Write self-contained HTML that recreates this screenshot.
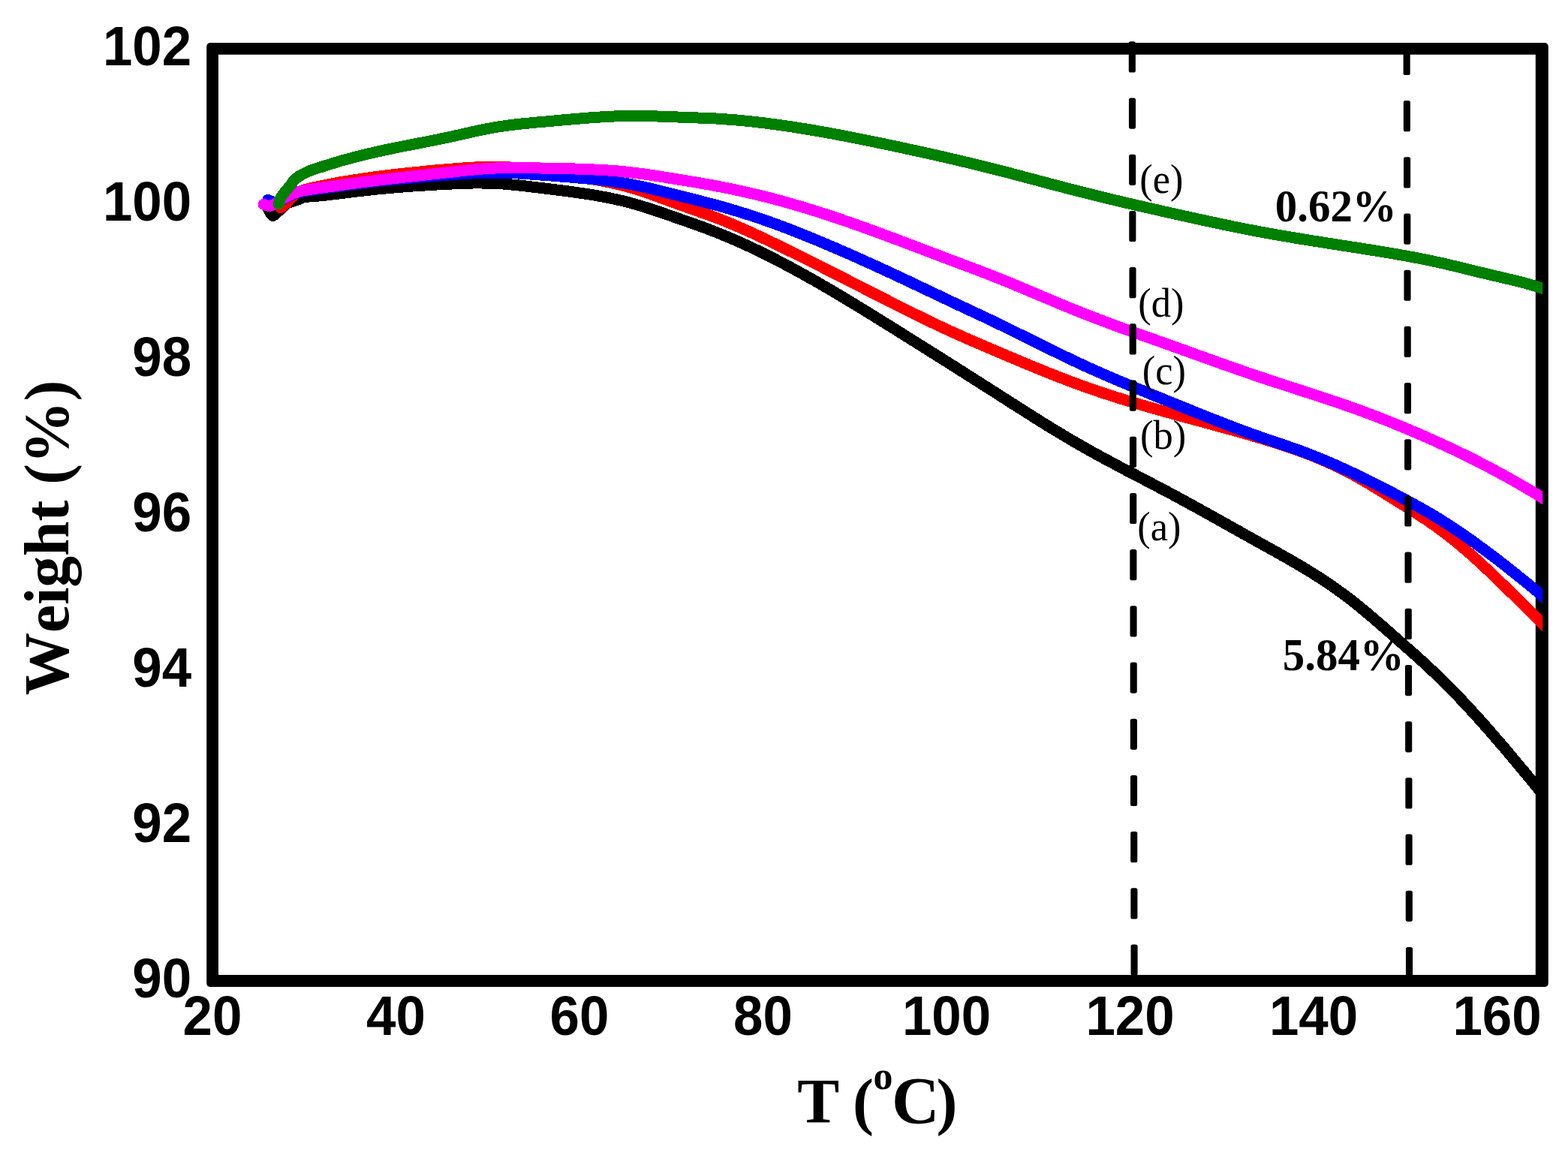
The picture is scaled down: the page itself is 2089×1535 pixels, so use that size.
<!DOCTYPE html>
<html lang="en">
<head>
<meta charset="utf-8">
<title>TGA weight loss curves</title>
<style>
html,body{margin:0;padding:0;background:#fff;}
body{width:2089px;height:1535px;overflow:hidden;}
svg{display:block;}
text{font-kerning:none;font-variant-ligatures:none;}
.tick{font-family:"Liberation Sans",sans-serif;font-weight:bold;fill:#000;}
.axl{font-family:"Liberation Serif",serif;font-weight:bold;fill:#000;}
.lab{font-family:"Liberation Serif",serif;fill:#000;}
.pct{font-family:"Liberation Serif",serif;font-weight:bold;fill:#000;}
.crv{shape-rendering:crispEdges;fill:none;stroke-width:15.0;stroke-linecap:round;stroke-linejoin:round;}
</style>
</head>
<body>
<svg role="img" aria-label="Thermogravimetric weight loss curves (a) to (e), weight percent versus temperature" width="2089" height="1535" viewBox="0 0 2089 1535">
<rect x="0" y="0" width="2089" height="1535" fill="#ffffff"/>
<defs><clipPath id="plot"><rect x="283.1" y="64.8" width="1772.2" height="1242.2"/></clipPath></defs>
<path fill="#000" fill-rule="evenodd" d="M280.7 56.9H2057.3Q2062.8 56.9 2062.8 62.4V1309.4Q2062.8 1314.9 2057.3 1314.9H280.7Q275.2 1314.9 275.2 1309.4V62.4Q275.2 56.9 280.7 56.9Z M291.0 72.7V1299.1H2045.8V72.7Z"/>
<g clip-path="url(#plot)">
<path class="crv" stroke="#000000" d="M354.8 273.0C356.1 275.3 360.2 284.8 362.3 286.7C364.4 288.6 365.5 286.1 367.5 284.6C369.5 283.2 372.1 280.3 374.5 278.0C376.9 275.7 379.6 272.6 382.2 271.0C384.8 269.4 387.6 269.1 390.0 268.3C392.4 267.5 393.9 266.9 396.6 266.0C399.3 265.1 401.5 263.4 406.2 262.6C410.9 261.8 417.7 261.7 425.0 261.0C432.3 260.3 443.8 258.9 450.0 258.2C456.2 257.5 458.0 257.2 462.0 256.7C466.0 256.2 470.0 255.7 474.0 255.2C478.0 254.7 482.0 254.3 486.0 253.8C490.0 253.4 494.0 252.9 498.0 252.5C502.0 252.1 506.0 251.7 510.0 251.3C514.0 251.0 518.0 250.6 522.0 250.2C526.0 249.9 530.0 249.6 534.0 249.2C538.0 248.9 542.0 248.6 546.0 248.3C550.0 248.0 554.0 247.7 558.0 247.5C562.0 247.2 566.0 247.0 570.0 246.7C574.0 246.5 578.0 246.2 582.0 246.0C586.0 245.8 590.0 245.6 594.0 245.4C598.0 245.2 602.0 245.0 606.0 244.8C610.0 244.7 614.0 244.5 618.0 244.4C622.0 244.2 626.0 244.1 630.0 244.0C634.0 244.0 638.0 243.9 642.0 244.0C646.0 244.0 650.0 244.0 654.0 244.2C658.0 244.3 662.0 244.5 666.0 244.7C670.0 245.0 674.0 245.3 678.0 245.7C682.0 246.0 686.0 246.4 690.0 246.8C694.0 247.3 698.0 247.7 702.0 248.2C706.0 248.7 710.0 249.2 714.0 249.7C718.0 250.1 722.0 250.6 726.0 251.1C730.0 251.6 734.0 252.1 738.0 252.6C742.0 253.1 746.0 253.6 750.0 254.1C754.0 254.6 758.0 255.1 762.0 255.6C766.0 256.2 770.0 256.7 774.0 257.3C778.0 257.9 782.0 258.5 786.0 259.1C790.0 259.8 794.0 260.4 798.0 261.2C802.0 261.9 806.0 262.6 810.0 263.4C814.0 264.2 818.0 265.1 822.0 266.0C826.0 266.9 830.0 267.8 834.0 268.8C838.0 269.8 842.0 270.9 846.0 272.1C850.0 273.2 854.0 274.4 858.0 275.6C862.0 276.9 866.0 278.2 870.0 279.5C874.0 280.8 878.0 282.2 882.0 283.5C886.0 284.9 890.0 286.3 894.0 287.7C898.0 289.1 902.0 290.5 906.0 291.9C910.0 293.3 914.0 294.7 918.0 296.1C922.0 297.5 926.0 298.9 930.0 300.4C934.0 301.8 938.0 303.3 942.0 304.8C946.0 306.3 950.0 307.8 954.0 309.4C958.0 311.0 962.0 312.6 966.0 314.3C970.0 315.9 974.0 317.6 978.0 319.3C982.0 321.1 986.0 322.9 990.0 324.7C994.0 326.5 998.0 328.3 1002.0 330.2C1006.0 332.1 1010.0 334.1 1014.0 336.0C1018.0 338.0 1022.0 340.0 1026.0 342.0C1030.0 344.0 1034.0 346.1 1038.0 348.2C1042.0 350.2 1046.0 352.4 1050.0 354.5C1054.0 356.6 1058.0 358.8 1062.0 361.0C1066.0 363.2 1070.0 365.4 1074.0 367.6C1078.0 369.9 1082.0 372.1 1086.0 374.4C1090.0 376.7 1094.0 379.0 1098.0 381.3C1102.0 383.6 1106.0 386.0 1110.0 388.3C1114.0 390.7 1118.0 393.1 1122.0 395.5C1126.0 397.9 1130.0 400.3 1134.0 402.7C1138.0 405.1 1142.0 407.6 1146.0 410.0C1150.0 412.4 1154.0 414.9 1158.0 417.4C1162.0 419.8 1166.0 422.3 1170.0 424.8C1174.0 427.3 1178.0 429.8 1182.0 432.3C1186.0 434.7 1190.0 437.2 1194.0 439.7C1198.0 442.2 1202.0 444.8 1206.0 447.3C1210.0 449.8 1214.0 452.3 1218.0 454.8C1222.0 457.3 1226.0 459.8 1230.0 462.3C1234.0 464.8 1238.0 467.3 1242.0 469.9C1246.0 472.4 1250.0 474.9 1254.0 477.4C1258.0 479.9 1262.0 482.5 1266.0 485.0C1270.0 487.5 1274.0 490.0 1278.0 492.6C1282.0 495.1 1286.0 497.6 1290.0 500.2C1294.0 502.7 1298.0 505.3 1302.0 507.8C1306.0 510.4 1310.0 512.9 1314.0 515.5C1318.0 518.0 1322.0 520.6 1326.0 523.1C1330.0 525.7 1334.0 528.3 1338.0 530.8C1342.0 533.4 1346.0 535.9 1350.0 538.5C1354.0 541.0 1358.0 543.6 1362.0 546.1C1366.0 548.7 1370.0 551.2 1374.0 553.7C1378.0 556.3 1382.0 558.8 1386.0 561.3C1390.0 563.8 1394.0 566.2 1398.0 568.7C1402.0 571.2 1406.0 573.6 1410.0 576.0C1414.0 578.4 1418.0 580.8 1422.0 583.2C1426.0 585.6 1430.0 587.9 1434.0 590.2C1438.0 592.6 1442.0 594.9 1446.0 597.1C1450.0 599.4 1454.0 601.6 1458.0 603.8C1462.0 606.0 1466.0 608.2 1470.0 610.4C1474.0 612.5 1478.0 614.7 1482.0 616.8C1486.0 618.9 1490.0 621.1 1494.0 623.2C1498.0 625.3 1502.0 627.4 1506.0 629.5C1510.0 631.6 1514.0 633.6 1518.0 635.7C1522.0 637.8 1526.0 639.9 1530.0 642.0C1534.0 644.1 1538.0 646.2 1542.0 648.3C1546.0 650.4 1550.0 652.5 1554.0 654.6C1558.0 656.7 1562.0 658.9 1566.0 661.0C1570.0 663.2 1574.0 665.3 1578.0 667.5C1582.0 669.7 1586.0 671.9 1590.0 674.1C1594.0 676.3 1598.0 678.5 1602.0 680.7C1606.0 682.9 1610.0 685.2 1614.0 687.4C1618.0 689.6 1622.0 691.8 1626.0 694.1C1630.0 696.3 1634.0 698.6 1638.0 700.8C1642.0 703.1 1646.0 705.3 1650.0 707.5C1654.0 709.8 1658.0 712.0 1662.0 714.3C1666.0 716.5 1670.0 718.7 1674.0 721.0C1678.0 723.2 1682.0 725.4 1686.0 727.6C1690.0 729.9 1694.0 732.1 1698.0 734.3C1702.0 736.5 1706.0 738.8 1710.0 741.0C1714.0 743.3 1718.0 745.5 1722.0 747.9C1726.0 750.2 1730.0 752.5 1734.0 754.9C1738.0 757.3 1742.0 759.7 1746.0 762.2C1750.0 764.7 1754.0 767.2 1758.0 769.8C1762.0 772.4 1766.0 775.0 1770.0 777.7C1774.0 780.5 1778.0 783.2 1782.0 786.1C1786.0 789.0 1790.0 791.9 1794.0 794.9C1798.0 797.9 1802.0 801.0 1806.0 804.2C1810.0 807.4 1814.0 810.7 1818.0 814.0C1822.0 817.3 1826.0 820.7 1830.0 824.1C1834.0 827.5 1838.0 831.0 1842.0 834.5C1846.0 838.0 1850.0 841.5 1854.0 845.0C1858.0 848.5 1862.0 852.1 1866.0 855.6C1870.0 859.1 1874.0 862.6 1878.0 866.2C1882.0 869.7 1886.0 873.3 1890.0 876.9C1894.0 880.5 1898.0 884.2 1902.0 887.9C1906.0 891.6 1910.0 895.4 1914.0 899.2C1918.0 903.0 1922.0 906.9 1926.0 910.9C1930.0 914.9 1934.0 919.0 1938.0 923.1C1942.0 927.2 1946.0 931.4 1950.0 935.7C1954.0 939.9 1958.0 944.3 1962.0 948.6C1966.0 953.0 1970.0 957.5 1974.0 961.9C1978.0 966.4 1982.0 971.0 1986.0 975.5C1990.0 980.1 1994.0 984.7 1998.0 989.4C2002.0 994.0 2006.0 998.7 2010.0 1003.5C2014.0 1008.2 2018.0 1013.0 2022.0 1017.8C2026.0 1022.6 2030.0 1027.4 2034.0 1032.2C2038.0 1037.1 2042.0 1042.0 2046.0 1046.9C2050.0 1051.8 2055.0 1057.9 2058.0 1061.6C2061.0 1065.3 2063.0 1067.8 2064.0 1069.0"/>
<path class="crv" stroke="#ff0000" d="M373.5 277.0C374.8 276.1 378.6 273.7 381.0 271.5C383.4 269.3 385.4 266.5 388.0 264.0C390.6 261.5 392.9 258.6 396.6 256.5C400.3 254.4 401.5 253.7 410.4 251.5C419.3 249.3 441.4 245.1 450.0 243.4C458.6 241.7 458.0 242.1 462.0 241.4C466.0 240.8 470.0 240.1 474.0 239.5C478.0 238.9 482.0 238.3 486.0 237.7C490.0 237.1 494.0 236.6 498.0 236.0C502.0 235.5 506.0 234.9 510.0 234.4C514.0 233.9 518.0 233.4 522.0 233.0C526.0 232.5 530.0 232.0 534.0 231.6C538.0 231.1 542.0 230.7 546.0 230.3C550.0 229.9 554.0 229.5 558.0 229.1C562.0 228.7 566.0 228.3 570.0 227.9C574.0 227.6 578.0 227.2 582.0 226.8C586.0 226.5 590.0 226.1 594.0 225.8C598.0 225.5 602.0 225.1 606.0 224.8C610.0 224.5 614.0 224.2 618.0 223.9C622.0 223.6 626.0 223.3 630.0 223.1C634.0 222.9 638.0 222.7 642.0 222.6C646.0 222.4 650.0 222.3 654.0 222.3C658.0 222.3 662.0 222.3 666.0 222.4C670.0 222.5 674.0 222.7 678.0 222.9C682.0 223.1 686.0 223.4 690.0 223.7C694.0 224.0 698.0 224.4 702.0 224.8C706.0 225.2 710.0 225.7 714.0 226.2C718.0 226.7 722.0 227.3 726.0 227.8C730.0 228.4 734.0 229.0 738.0 229.7C742.0 230.3 746.0 231.0 750.0 231.7C754.0 232.3 758.0 233.0 762.0 233.8C766.0 234.5 770.0 235.2 774.0 235.9C778.0 236.6 782.0 237.4 786.0 238.1C790.0 238.8 794.0 239.6 798.0 240.3C802.0 241.1 806.0 241.9 810.0 242.7C814.0 243.5 818.0 244.4 822.0 245.3C826.0 246.3 830.0 247.3 834.0 248.3C838.0 249.4 842.0 250.6 846.0 251.8C850.0 253.0 854.0 254.3 858.0 255.7C862.0 257.0 866.0 258.4 870.0 259.8C874.0 261.3 878.0 262.8 882.0 264.2C886.0 265.7 890.0 267.2 894.0 268.6C898.0 270.1 902.0 271.5 906.0 272.9C910.0 274.4 914.0 275.8 918.0 277.2C922.0 278.6 926.0 280.0 930.0 281.4C934.0 282.8 938.0 284.2 942.0 285.6C946.0 287.1 950.0 288.6 954.0 290.1C958.0 291.6 962.0 293.2 966.0 294.8C970.0 296.4 974.0 298.1 978.0 299.8C982.0 301.5 986.0 303.2 990.0 305.0C994.0 306.7 998.0 308.6 1002.0 310.4C1006.0 312.2 1010.0 314.1 1014.0 316.0C1018.0 317.9 1022.0 319.8 1026.0 321.7C1030.0 323.6 1034.0 325.6 1038.0 327.5C1042.0 329.5 1046.0 331.4 1050.0 333.4C1054.0 335.4 1058.0 337.3 1062.0 339.3C1066.0 341.3 1070.0 343.3 1074.0 345.3C1078.0 347.3 1082.0 349.3 1086.0 351.3C1090.0 353.3 1094.0 355.3 1098.0 357.4C1102.0 359.4 1106.0 361.4 1110.0 363.5C1114.0 365.5 1118.0 367.5 1122.0 369.6C1126.0 371.6 1130.0 373.6 1134.0 375.7C1138.0 377.7 1142.0 379.8 1146.0 381.8C1150.0 383.9 1154.0 385.9 1158.0 387.9C1162.0 390.0 1166.0 392.0 1170.0 394.0C1174.0 396.1 1178.0 398.1 1182.0 400.1C1186.0 402.2 1190.0 404.2 1194.0 406.2C1198.0 408.2 1202.0 410.2 1206.0 412.2C1210.0 414.2 1214.0 416.2 1218.0 418.2C1222.0 420.1 1226.0 422.1 1230.0 424.1C1234.0 426.0 1238.0 427.9 1242.0 429.9C1246.0 431.8 1250.0 433.7 1254.0 435.6C1258.0 437.4 1262.0 439.3 1266.0 441.2C1270.0 443.0 1274.0 444.8 1278.0 446.6C1282.0 448.4 1286.0 450.2 1290.0 451.9C1294.0 453.7 1298.0 455.4 1302.0 457.1C1306.0 458.8 1310.0 460.5 1314.0 462.2C1318.0 464.0 1322.0 465.7 1326.0 467.4C1330.0 469.1 1334.0 470.8 1338.0 472.5C1342.0 474.2 1346.0 475.9 1350.0 477.5C1354.0 479.2 1358.0 480.9 1362.0 482.6C1366.0 484.3 1370.0 485.9 1374.0 487.6C1378.0 489.2 1382.0 490.9 1386.0 492.5C1390.0 494.2 1394.0 495.8 1398.0 497.4C1402.0 499.0 1406.0 500.5 1410.0 502.1C1414.0 503.7 1418.0 505.2 1422.0 506.7C1426.0 508.2 1430.0 509.7 1434.0 511.2C1438.0 512.7 1442.0 514.1 1446.0 515.5C1450.0 517.0 1454.0 518.4 1458.0 519.7C1462.0 521.1 1466.0 522.4 1470.0 523.8C1474.0 525.1 1478.0 526.4 1482.0 527.7C1486.0 529.0 1490.0 530.2 1494.0 531.5C1498.0 532.7 1502.0 533.9 1506.0 535.1C1510.0 536.4 1514.0 537.6 1518.0 538.7C1522.0 539.9 1526.0 541.1 1530.0 542.2C1534.0 543.4 1538.0 544.5 1542.0 545.7C1546.0 546.8 1550.0 547.9 1554.0 549.0C1558.0 550.1 1562.0 551.3 1566.0 552.4C1570.0 553.5 1574.0 554.5 1578.0 555.6C1582.0 556.7 1586.0 557.8 1590.0 558.9C1594.0 560.0 1598.0 561.1 1602.0 562.1C1606.0 563.2 1610.0 564.3 1614.0 565.4C1618.0 566.5 1622.0 567.6 1626.0 568.7C1630.0 569.8 1634.0 570.9 1638.0 572.0C1642.0 573.1 1646.0 574.2 1650.0 575.4C1654.0 576.5 1658.0 577.6 1662.0 578.8C1666.0 580.0 1670.0 581.1 1674.0 582.3C1678.0 583.5 1682.0 584.7 1686.0 585.9C1690.0 587.1 1694.0 588.4 1698.0 589.6C1702.0 590.9 1706.0 592.2 1710.0 593.5C1714.0 594.8 1718.0 596.2 1722.0 597.6C1726.0 599.0 1730.0 600.4 1734.0 601.9C1738.0 603.4 1742.0 604.9 1746.0 606.4C1750.0 608.0 1754.0 609.6 1758.0 611.3C1762.0 613.0 1766.0 614.7 1770.0 616.5C1774.0 618.3 1778.0 620.1 1782.0 622.1C1786.0 624.0 1790.0 626.0 1794.0 628.0C1798.0 630.1 1802.0 632.3 1806.0 634.5C1810.0 636.7 1814.0 639.0 1818.0 641.3C1822.0 643.6 1826.0 646.0 1830.0 648.5C1834.0 650.9 1838.0 653.3 1842.0 655.8C1846.0 658.3 1850.0 660.8 1854.0 663.3C1858.0 665.8 1862.0 668.2 1866.0 670.7C1870.0 673.2 1874.0 675.7 1878.0 678.2C1882.0 680.7 1886.0 683.3 1890.0 685.9C1894.0 688.5 1898.0 691.1 1902.0 693.8C1906.0 696.5 1910.0 699.3 1914.0 702.1C1918.0 705.0 1922.0 708.0 1926.0 711.0C1930.0 714.1 1934.0 717.3 1938.0 720.5C1942.0 723.7 1946.0 727.1 1950.0 730.5C1954.0 733.9 1958.0 737.4 1962.0 741.0C1966.0 744.6 1970.0 748.2 1974.0 751.9C1978.0 755.6 1982.0 759.4 1986.0 763.2C1990.0 767.0 1994.0 770.8 1998.0 774.7C2002.0 778.6 2006.0 782.5 2010.0 786.5C2014.0 790.4 2018.0 794.3 2022.0 798.3C2026.0 802.2 2030.0 806.1 2034.0 810.1C2038.0 814.0 2042.0 817.8 2046.0 821.7C2050.0 825.6 2055.0 830.5 2058.0 833.5C2061.0 836.4 2063.0 838.5 2064.0 839.5"/>
<path class="crv" stroke="#0000ff" d="M356.9 266.2C357.8 266.6 359.8 268.0 362.0 268.5C364.2 269.0 366.8 269.8 370.0 269.0C373.2 268.2 376.6 265.6 381.0 263.5C385.4 261.4 391.7 258.2 396.6 256.6C401.5 255.0 401.5 255.4 410.4 254.0C419.3 252.6 441.4 249.5 450.0 248.3C458.6 247.1 458.0 247.2 462.0 246.7C466.0 246.1 470.0 245.6 474.0 245.1C478.0 244.6 482.0 244.0 486.0 243.6C490.0 243.1 494.0 242.6 498.0 242.1C502.0 241.7 506.0 241.2 510.0 240.8C514.0 240.4 518.0 240.0 522.0 239.6C526.0 239.2 530.0 238.8 534.0 238.4C538.0 238.0 542.0 237.7 546.0 237.3C550.0 236.9 554.0 236.6 558.0 236.2C562.0 235.9 566.0 235.6 570.0 235.2C574.0 234.9 578.0 234.6 582.0 234.3C586.0 234.0 590.0 233.7 594.0 233.4C598.0 233.0 602.0 232.7 606.0 232.5C610.0 232.2 614.0 231.9 618.0 231.6C622.0 231.3 626.0 231.1 630.0 230.9C634.0 230.7 638.0 230.5 642.0 230.3C646.0 230.2 650.0 230.1 654.0 230.0C658.0 230.0 662.0 230.0 666.0 230.1C670.0 230.1 674.0 230.2 678.0 230.4C682.0 230.5 686.0 230.7 690.0 231.0C694.0 231.2 698.0 231.4 702.0 231.7C706.0 232.0 710.0 232.3 714.0 232.6C718.0 232.8 722.0 233.1 726.0 233.4C730.0 233.7 734.0 234.0 738.0 234.3C742.0 234.7 746.0 235.0 750.0 235.3C754.0 235.6 758.0 235.9 762.0 236.2C766.0 236.6 770.0 236.9 774.0 237.3C778.0 237.6 782.0 238.0 786.0 238.4C790.0 238.7 794.0 239.1 798.0 239.6C802.0 240.0 806.0 240.4 810.0 240.9C814.0 241.4 818.0 242.0 822.0 242.5C826.0 243.1 830.0 243.7 834.0 244.4C838.0 245.1 842.0 245.9 846.0 246.7C850.0 247.5 854.0 248.3 858.0 249.2C862.0 250.1 866.0 251.0 870.0 252.0C874.0 252.9 878.0 253.9 882.0 254.9C886.0 255.9 890.0 257.0 894.0 258.0C898.0 259.0 902.0 260.0 906.0 261.0C910.0 262.0 914.0 263.0 918.0 264.0C922.0 265.0 926.0 266.0 930.0 267.1C934.0 268.1 938.0 269.1 942.0 270.2C946.0 271.2 950.0 272.3 954.0 273.3C958.0 274.4 962.0 275.5 966.0 276.7C970.0 277.8 974.0 279.0 978.0 280.2C982.0 281.4 986.0 282.6 990.0 283.9C994.0 285.1 998.0 286.4 1002.0 287.7C1006.0 289.0 1010.0 290.4 1014.0 291.7C1018.0 293.1 1022.0 294.5 1026.0 295.9C1030.0 297.3 1034.0 298.8 1038.0 300.3C1042.0 301.7 1046.0 303.2 1050.0 304.8C1054.0 306.3 1058.0 307.9 1062.0 309.5C1066.0 311.0 1070.0 312.6 1074.0 314.3C1078.0 315.9 1082.0 317.5 1086.0 319.2C1090.0 320.8 1094.0 322.5 1098.0 324.2C1102.0 325.9 1106.0 327.6 1110.0 329.3C1114.0 331.0 1118.0 332.7 1122.0 334.5C1126.0 336.2 1130.0 338.0 1134.0 339.7C1138.0 341.5 1142.0 343.3 1146.0 345.1C1150.0 346.9 1154.0 348.7 1158.0 350.5C1162.0 352.3 1166.0 354.1 1170.0 356.0C1174.0 357.8 1178.0 359.6 1182.0 361.5C1186.0 363.4 1190.0 365.2 1194.0 367.1C1198.0 369.0 1202.0 370.8 1206.0 372.7C1210.0 374.6 1214.0 376.5 1218.0 378.4C1222.0 380.3 1226.0 382.2 1230.0 384.1C1234.0 386.0 1238.0 387.9 1242.0 389.8C1246.0 391.7 1250.0 393.6 1254.0 395.5C1258.0 397.4 1262.0 399.3 1266.0 401.2C1270.0 403.1 1274.0 405.0 1278.0 406.9C1282.0 408.7 1286.0 410.6 1290.0 412.5C1294.0 414.4 1298.0 416.2 1302.0 418.1C1306.0 420.0 1310.0 421.8 1314.0 423.7C1318.0 425.6 1322.0 427.6 1326.0 429.5C1330.0 431.4 1334.0 433.4 1338.0 435.3C1342.0 437.3 1346.0 439.2 1350.0 441.2C1354.0 443.2 1358.0 445.2 1362.0 447.1C1366.0 449.1 1370.0 451.1 1374.0 453.1C1378.0 455.1 1382.0 457.1 1386.0 459.0C1390.0 461.0 1394.0 463.0 1398.0 465.0C1402.0 466.9 1406.0 468.9 1410.0 470.8C1414.0 472.8 1418.0 474.7 1422.0 476.6C1426.0 478.5 1430.0 480.4 1434.0 482.3C1438.0 484.2 1442.0 486.0 1446.0 487.9C1450.0 489.7 1454.0 491.5 1458.0 493.3C1462.0 495.1 1466.0 496.8 1470.0 498.6C1474.0 500.3 1478.0 502.1 1482.0 503.8C1486.0 505.5 1490.0 507.2 1494.0 508.9C1498.0 510.6 1502.0 512.2 1506.0 513.9C1510.0 515.6 1514.0 517.2 1518.0 518.9C1522.0 520.5 1526.0 522.2 1530.0 523.8C1534.0 525.4 1538.0 527.1 1542.0 528.7C1546.0 530.3 1550.0 531.9 1554.0 533.6C1558.0 535.2 1562.0 536.8 1566.0 538.4C1570.0 540.1 1574.0 541.7 1578.0 543.3C1582.0 544.9 1586.0 546.6 1590.0 548.2C1594.0 549.8 1598.0 551.4 1602.0 553.0C1606.0 554.6 1610.0 556.2 1614.0 557.8C1618.0 559.4 1622.0 561.0 1626.0 562.5C1630.0 564.1 1634.0 565.6 1638.0 567.2C1642.0 568.7 1646.0 570.2 1650.0 571.7C1654.0 573.2 1658.0 574.7 1662.0 576.2C1666.0 577.6 1670.0 579.1 1674.0 580.5C1678.0 581.9 1682.0 583.3 1686.0 584.7C1690.0 586.1 1694.0 587.4 1698.0 588.8C1702.0 590.1 1706.0 591.5 1710.0 592.8C1714.0 594.2 1718.0 595.6 1722.0 597.0C1726.0 598.4 1730.0 599.8 1734.0 601.3C1738.0 602.7 1742.0 604.2 1746.0 605.8C1750.0 607.4 1754.0 609.0 1758.0 610.6C1762.0 612.2 1766.0 613.9 1770.0 615.7C1774.0 617.4 1778.0 619.1 1782.0 620.9C1786.0 622.7 1790.0 624.5 1794.0 626.4C1798.0 628.2 1802.0 630.1 1806.0 632.0C1810.0 634.0 1814.0 635.9 1818.0 637.9C1822.0 639.8 1826.0 641.8 1830.0 643.8C1834.0 645.8 1838.0 647.8 1842.0 649.9C1846.0 651.9 1850.0 654.0 1854.0 656.1C1858.0 658.1 1862.0 660.2 1866.0 662.4C1870.0 664.5 1874.0 666.6 1878.0 668.8C1882.0 670.9 1886.0 673.1 1890.0 675.4C1894.0 677.6 1898.0 679.9 1902.0 682.2C1906.0 684.5 1910.0 686.9 1914.0 689.3C1918.0 691.7 1922.0 694.2 1926.0 696.8C1930.0 699.3 1934.0 702.0 1938.0 704.6C1942.0 707.3 1946.0 710.0 1950.0 712.8C1954.0 715.6 1958.0 718.4 1962.0 721.2C1966.0 724.1 1970.0 727.0 1974.0 730.0C1978.0 732.9 1982.0 735.9 1986.0 738.9C1990.0 741.9 1994.0 744.9 1998.0 748.0C2002.0 751.1 2006.0 754.2 2010.0 757.4C2014.0 760.5 2018.0 763.7 2022.0 766.9C2026.0 770.1 2030.0 773.4 2034.0 776.6C2038.0 779.9 2042.0 783.2 2046.0 786.6C2050.0 790.0 2055.0 794.3 2058.0 796.8C2061.0 799.4 2063.0 801.1 2064.0 802.0"/>
<path class="crv" stroke="#ff00ff" d="M351.1 272.4C352.3 272.7 355.8 274.4 358.3 274.3C360.8 274.2 363.4 273.1 366.0 271.9C368.6 270.7 371.1 268.7 373.6 267.1C376.2 265.5 377.5 264.2 381.3 262.3C385.1 260.4 391.8 257.2 396.6 255.6C401.5 254.0 401.5 254.2 410.4 252.8C419.3 251.4 441.4 248.4 450.0 247.2C458.6 246.0 458.0 246.1 462.0 245.5C466.0 245.0 470.0 244.4 474.0 243.9C478.0 243.4 482.0 242.8 486.0 242.3C490.0 241.8 494.0 241.3 498.0 240.8C502.0 240.3 506.0 239.8 510.0 239.4C514.0 238.9 518.0 238.4 522.0 238.0C526.0 237.5 530.0 237.0 534.0 236.6C538.0 236.1 542.0 235.7 546.0 235.3C550.0 234.8 554.0 234.4 558.0 234.0C562.0 233.5 566.0 233.1 570.0 232.7C574.0 232.2 578.0 231.8 582.0 231.4C586.0 230.9 590.0 230.5 594.0 230.1C598.0 229.6 602.0 229.2 606.0 228.7C610.0 228.3 614.0 227.9 618.0 227.4C622.0 227.0 626.0 226.6 630.0 226.2C634.0 225.8 638.0 225.5 642.0 225.1C646.0 224.8 650.0 224.5 654.0 224.3C658.0 224.1 662.0 223.9 666.0 223.8C670.0 223.6 674.0 223.6 678.0 223.5C682.0 223.5 686.0 223.5 690.0 223.5C694.0 223.5 698.0 223.6 702.0 223.6C706.0 223.7 710.0 223.8 714.0 223.9C718.0 224.0 722.0 224.0 726.0 224.1C730.0 224.2 734.0 224.3 738.0 224.4C742.0 224.4 746.0 224.5 750.0 224.6C754.0 224.7 758.0 224.8 762.0 224.9C766.0 225.0 770.0 225.1 774.0 225.3C778.0 225.4 782.0 225.6 786.0 225.7C790.0 225.9 794.0 226.1 798.0 226.3C802.0 226.5 806.0 226.8 810.0 227.0C814.0 227.3 818.0 227.6 822.0 227.9C826.0 228.3 830.0 228.6 834.0 229.1C838.0 229.5 842.0 229.9 846.0 230.4C850.0 230.9 854.0 231.4 858.0 232.0C862.0 232.5 866.0 233.1 870.0 233.7C874.0 234.3 878.0 234.9 882.0 235.6C886.0 236.2 890.0 236.9 894.0 237.5C898.0 238.2 902.0 238.8 906.0 239.5C910.0 240.1 914.0 240.8 918.0 241.5C922.0 242.1 926.0 242.8 930.0 243.5C934.0 244.2 938.0 244.9 942.0 245.6C946.0 246.3 950.0 247.0 954.0 247.8C958.0 248.5 962.0 249.3 966.0 250.1C970.0 250.9 974.0 251.7 978.0 252.5C982.0 253.4 986.0 254.3 990.0 255.2C994.0 256.1 998.0 257.0 1002.0 257.9C1006.0 258.9 1010.0 259.8 1014.0 260.8C1018.0 261.8 1022.0 262.8 1026.0 263.8C1030.0 264.9 1034.0 265.9 1038.0 267.0C1042.0 268.1 1046.0 269.2 1050.0 270.3C1054.0 271.5 1058.0 272.6 1062.0 273.8C1066.0 274.9 1070.0 276.1 1074.0 277.4C1078.0 278.6 1082.0 279.8 1086.0 281.1C1090.0 282.3 1094.0 283.6 1098.0 284.9C1102.0 286.2 1106.0 287.5 1110.0 288.9C1114.0 290.2 1118.0 291.6 1122.0 292.9C1126.0 294.3 1130.0 295.7 1134.0 297.1C1138.0 298.5 1142.0 299.9 1146.0 301.3C1150.0 302.8 1154.0 304.2 1158.0 305.6C1162.0 307.1 1166.0 308.6 1170.0 310.0C1174.0 311.5 1178.0 313.0 1182.0 314.5C1186.0 316.0 1190.0 317.4 1194.0 318.9C1198.0 320.4 1202.0 322.0 1206.0 323.5C1210.0 325.0 1214.0 326.5 1218.0 328.0C1222.0 329.5 1226.0 331.0 1230.0 332.6C1234.0 334.1 1238.0 335.6 1242.0 337.1C1246.0 338.6 1250.0 340.2 1254.0 341.7C1258.0 343.2 1262.0 344.7 1266.0 346.2C1270.0 347.7 1274.0 349.2 1278.0 350.7C1282.0 352.3 1286.0 353.8 1290.0 355.3C1294.0 356.8 1298.0 358.3 1302.0 359.8C1306.0 361.3 1310.0 362.8 1314.0 364.4C1318.0 365.9 1322.0 367.5 1326.0 369.1C1330.0 370.7 1334.0 372.3 1338.0 373.9C1342.0 375.5 1346.0 377.2 1350.0 378.8C1354.0 380.5 1358.0 382.1 1362.0 383.8C1366.0 385.5 1370.0 387.2 1374.0 388.9C1378.0 390.6 1382.0 392.2 1386.0 393.9C1390.0 395.6 1394.0 397.3 1398.0 399.0C1402.0 400.7 1406.0 402.4 1410.0 404.0C1414.0 405.7 1418.0 407.4 1422.0 409.0C1426.0 410.6 1430.0 412.3 1434.0 413.9C1438.0 415.5 1442.0 417.1 1446.0 418.7C1450.0 420.3 1454.0 421.8 1458.0 423.3C1462.0 424.9 1466.0 426.4 1470.0 427.9C1474.0 429.4 1478.0 430.9 1482.0 432.4C1486.0 433.9 1490.0 435.3 1494.0 436.8C1498.0 438.2 1502.0 439.7 1506.0 441.1C1510.0 442.6 1514.0 444.0 1518.0 445.4C1522.0 446.9 1526.0 448.3 1530.0 449.7C1534.0 451.1 1538.0 452.6 1542.0 454.0C1546.0 455.4 1550.0 456.8 1554.0 458.3C1558.0 459.7 1562.0 461.1 1566.0 462.5C1570.0 464.0 1574.0 465.4 1578.0 466.8C1582.0 468.3 1586.0 469.7 1590.0 471.2C1594.0 472.6 1598.0 474.0 1602.0 475.5C1606.0 476.9 1610.0 478.3 1614.0 479.8C1618.0 481.2 1622.0 482.6 1626.0 484.1C1630.0 485.5 1634.0 486.9 1638.0 488.3C1642.0 489.7 1646.0 491.1 1650.0 492.5C1654.0 493.9 1658.0 495.3 1662.0 496.7C1666.0 498.1 1670.0 499.4 1674.0 500.8C1678.0 502.1 1682.0 503.5 1686.0 504.8C1690.0 506.1 1694.0 507.5 1698.0 508.8C1702.0 510.1 1706.0 511.4 1710.0 512.7C1714.0 514.0 1718.0 515.3 1722.0 516.6C1726.0 517.9 1730.0 519.2 1734.0 520.5C1738.0 521.8 1742.0 523.1 1746.0 524.4C1750.0 525.7 1754.0 527.0 1758.0 528.3C1762.0 529.6 1766.0 530.9 1770.0 532.3C1774.0 533.6 1778.0 535.0 1782.0 536.3C1786.0 537.7 1790.0 539.1 1794.0 540.5C1798.0 541.9 1802.0 543.3 1806.0 544.7C1810.0 546.2 1814.0 547.6 1818.0 549.1C1822.0 550.6 1826.0 552.1 1830.0 553.6C1834.0 555.1 1838.0 556.7 1842.0 558.2C1846.0 559.8 1850.0 561.4 1854.0 563.0C1858.0 564.6 1862.0 566.2 1866.0 567.9C1870.0 569.5 1874.0 571.2 1878.0 572.9C1882.0 574.6 1886.0 576.3 1890.0 578.0C1894.0 579.7 1898.0 581.5 1902.0 583.3C1906.0 585.0 1910.0 586.8 1914.0 588.7C1918.0 590.5 1922.0 592.3 1926.0 594.2C1930.0 596.0 1934.0 597.9 1938.0 599.8C1942.0 601.7 1946.0 603.7 1950.0 605.6C1954.0 607.6 1958.0 609.6 1962.0 611.6C1966.0 613.6 1970.0 615.6 1974.0 617.7C1978.0 619.7 1982.0 621.8 1986.0 623.9C1990.0 626.0 1994.0 628.2 1998.0 630.4C2002.0 632.5 2006.0 634.7 2010.0 636.9C2014.0 639.2 2018.0 641.4 2022.0 643.7C2026.0 646.0 2030.0 648.3 2034.0 650.7C2038.0 653.0 2042.0 655.4 2046.0 657.8C2050.0 660.2 2055.0 663.3 2058.0 665.2C2061.0 667.1 2063.0 668.4 2064.0 669.0"/>
<path class="crv" stroke="#008000" d="M371.2 271.9C371.6 270.6 372.3 266.9 373.6 264.3C374.9 261.8 376.8 259.3 378.9 256.6C381.0 253.9 384.1 250.5 386.1 248.0C388.1 245.5 389.1 243.6 390.8 241.6C392.6 239.6 394.5 237.6 396.6 236.0C398.7 234.4 400.1 233.8 403.3 232.2C406.5 230.6 407.9 229.3 415.7 226.5C423.5 223.7 442.3 218.0 450.0 215.6C457.7 213.2 458.0 213.4 462.0 212.3C466.0 211.2 470.0 210.1 474.0 209.1C478.0 208.0 482.0 207.0 486.0 206.0C490.0 205.0 494.0 204.1 498.0 203.2C502.0 202.2 506.0 201.4 510.0 200.5C514.0 199.6 518.0 198.8 522.0 198.0C526.0 197.1 530.0 196.3 534.0 195.5C538.0 194.7 542.0 194.0 546.0 193.2C550.0 192.4 554.0 191.6 558.0 190.8C562.0 190.1 566.0 189.3 570.0 188.5C574.0 187.7 578.0 186.9 582.0 186.1C586.0 185.3 590.0 184.4 594.0 183.6C598.0 182.7 602.0 181.9 606.0 181.0C610.0 180.1 614.0 179.2 618.0 178.3C622.0 177.4 626.0 176.5 630.0 175.6C634.0 174.7 638.0 173.8 642.0 173.0C646.0 172.2 650.0 171.4 654.0 170.7C658.0 169.9 662.0 169.3 666.0 168.6C670.0 168.0 674.0 167.5 678.0 166.9C682.0 166.4 686.0 166.0 690.0 165.5C694.0 165.1 698.0 164.7 702.0 164.3C706.0 163.9 710.0 163.5 714.0 163.1C718.0 162.8 722.0 162.4 726.0 162.1C730.0 161.7 734.0 161.3 738.0 161.0C742.0 160.6 746.0 160.3 750.0 159.9C754.0 159.6 758.0 159.2 762.0 158.9C766.0 158.5 770.0 158.2 774.0 157.9C778.0 157.6 782.0 157.2 786.0 156.9C790.0 156.6 794.0 156.4 798.0 156.1C802.0 155.8 806.0 155.6 810.0 155.4C814.0 155.2 818.0 155.0 822.0 154.8C826.0 154.7 830.0 154.6 834.0 154.5C838.0 154.4 842.0 154.4 846.0 154.4C850.0 154.4 854.0 154.4 858.0 154.5C862.0 154.6 866.0 154.7 870.0 154.8C874.0 154.9 878.0 155.1 882.0 155.2C886.0 155.4 890.0 155.5 894.0 155.7C898.0 155.8 902.0 156.0 906.0 156.1C910.0 156.3 914.0 156.4 918.0 156.5C922.0 156.7 926.0 156.8 930.0 157.0C934.0 157.1 938.0 157.3 942.0 157.5C946.0 157.6 950.0 157.8 954.0 158.0C958.0 158.3 962.0 158.5 966.0 158.8C970.0 159.1 974.0 159.4 978.0 159.7C982.0 160.0 986.0 160.4 990.0 160.8C994.0 161.2 998.0 161.6 1002.0 162.0C1006.0 162.4 1010.0 162.9 1014.0 163.4C1018.0 163.8 1022.0 164.3 1026.0 164.9C1030.0 165.4 1034.0 165.9 1038.0 166.5C1042.0 167.0 1046.0 167.6 1050.0 168.2C1054.0 168.8 1058.0 169.4 1062.0 170.1C1066.0 170.7 1070.0 171.3 1074.0 172.0C1078.0 172.7 1082.0 173.3 1086.0 174.0C1090.0 174.7 1094.0 175.4 1098.0 176.1C1102.0 176.8 1106.0 177.6 1110.0 178.3C1114.0 179.1 1118.0 179.8 1122.0 180.6C1126.0 181.3 1130.0 182.1 1134.0 182.9C1138.0 183.7 1142.0 184.5 1146.0 185.3C1150.0 186.1 1154.0 186.9 1158.0 187.7C1162.0 188.5 1166.0 189.3 1170.0 190.2C1174.0 191.0 1178.0 191.8 1182.0 192.7C1186.0 193.5 1190.0 194.4 1194.0 195.2C1198.0 196.1 1202.0 196.9 1206.0 197.8C1210.0 198.7 1214.0 199.5 1218.0 200.4C1222.0 201.3 1226.0 202.1 1230.0 203.0C1234.0 203.9 1238.0 204.8 1242.0 205.7C1246.0 206.6 1250.0 207.5 1254.0 208.4C1258.0 209.3 1262.0 210.2 1266.0 211.2C1270.0 212.1 1274.0 213.0 1278.0 214.0C1282.0 214.9 1286.0 215.9 1290.0 216.8C1294.0 217.8 1298.0 218.8 1302.0 219.7C1306.0 220.7 1310.0 221.7 1314.0 222.7C1318.0 223.7 1322.0 224.7 1326.0 225.7C1330.0 226.7 1334.0 227.8 1338.0 228.8C1342.0 229.8 1346.0 230.9 1350.0 231.9C1354.0 233.0 1358.0 234.0 1362.0 235.1C1366.0 236.2 1370.0 237.2 1374.0 238.3C1378.0 239.3 1382.0 240.4 1386.0 241.5C1390.0 242.5 1394.0 243.6 1398.0 244.7C1402.0 245.7 1406.0 246.8 1410.0 247.8C1414.0 248.9 1418.0 249.9 1422.0 251.0C1426.0 252.0 1430.0 253.0 1434.0 254.1C1438.0 255.1 1442.0 256.1 1446.0 257.1C1450.0 258.1 1454.0 259.1 1458.0 260.1C1462.0 261.1 1466.0 262.1 1470.0 263.0C1474.0 264.0 1478.0 265.0 1482.0 265.9C1486.0 266.9 1490.0 267.8 1494.0 268.8C1498.0 269.7 1502.0 270.7 1506.0 271.6C1510.0 272.5 1514.0 273.5 1518.0 274.4C1522.0 275.3 1526.0 276.2 1530.0 277.1C1534.0 278.0 1538.0 278.9 1542.0 279.8C1546.0 280.8 1550.0 281.7 1554.0 282.6C1558.0 283.5 1562.0 284.3 1566.0 285.2C1570.0 286.1 1574.0 287.0 1578.0 287.9C1582.0 288.8 1586.0 289.7 1590.0 290.6C1594.0 291.5 1598.0 292.3 1602.0 293.2C1606.0 294.1 1610.0 294.9 1614.0 295.8C1618.0 296.6 1622.0 297.5 1626.0 298.3C1630.0 299.2 1634.0 300.0 1638.0 300.8C1642.0 301.7 1646.0 302.5 1650.0 303.3C1654.0 304.1 1658.0 304.9 1662.0 305.7C1666.0 306.4 1670.0 307.2 1674.0 308.0C1678.0 308.7 1682.0 309.5 1686.0 310.2C1690.0 310.9 1694.0 311.7 1698.0 312.4C1702.0 313.1 1706.0 313.8 1710.0 314.5C1714.0 315.1 1718.0 315.8 1722.0 316.5C1726.0 317.2 1730.0 317.8 1734.0 318.5C1738.0 319.1 1742.0 319.8 1746.0 320.4C1750.0 321.1 1754.0 321.7 1758.0 322.3C1762.0 323.0 1766.0 323.6 1770.0 324.2C1774.0 324.9 1778.0 325.5 1782.0 326.1C1786.0 326.7 1790.0 327.3 1794.0 328.0C1798.0 328.6 1802.0 329.2 1806.0 329.8C1810.0 330.5 1814.0 331.1 1818.0 331.7C1822.0 332.4 1826.0 333.0 1830.0 333.6C1834.0 334.3 1838.0 334.9 1842.0 335.6C1846.0 336.2 1850.0 336.9 1854.0 337.6C1858.0 338.3 1862.0 339.0 1866.0 339.7C1870.0 340.4 1874.0 341.1 1878.0 341.9C1882.0 342.6 1886.0 343.4 1890.0 344.1C1894.0 344.9 1898.0 345.7 1902.0 346.5C1906.0 347.4 1910.0 348.2 1914.0 349.1C1918.0 349.9 1922.0 350.8 1926.0 351.8C1930.0 352.7 1934.0 353.6 1938.0 354.6C1942.0 355.5 1946.0 356.5 1950.0 357.5C1954.0 358.4 1958.0 359.4 1962.0 360.4C1966.0 361.4 1970.0 362.4 1974.0 363.4C1978.0 364.3 1982.0 365.3 1986.0 366.3C1990.0 367.2 1994.0 368.1 1998.0 369.1C2002.0 370.0 2006.0 370.9 2010.0 371.9C2014.0 372.8 2018.0 373.7 2022.0 374.8C2026.0 375.8 2030.0 376.8 2034.0 377.9C2038.0 379.0 2042.0 380.2 2046.0 381.4C2050.0 382.6 2055.0 384.2 2058.0 385.1C2061.0 386.1 2063.0 386.7 2064.0 387.0"/>
</g>
<g fill="#000"><rect x="1503.79" y="55.30" width="9.1" height="41.2" rx="2.6" ry="2.6"/><rect x="1503.96" y="130.50" width="9.1" height="41.2" rx="2.6" ry="2.6"/><rect x="1504.13" y="205.70" width="9.1" height="41.2" rx="2.6" ry="2.6"/><rect x="1504.30" y="280.90" width="9.1" height="41.2" rx="2.6" ry="2.6"/><rect x="1504.47" y="356.10" width="9.1" height="41.2" rx="2.6" ry="2.6"/><rect x="1504.64" y="431.30" width="9.1" height="41.2" rx="2.6" ry="2.6"/><rect x="1504.81" y="506.50" width="9.1" height="41.2" rx="2.6" ry="2.6"/><rect x="1504.98" y="581.70" width="9.1" height="41.2" rx="2.6" ry="2.6"/><rect x="1505.15" y="656.90" width="9.1" height="41.2" rx="2.6" ry="2.6"/><rect x="1505.32" y="732.10" width="9.1" height="41.2" rx="2.6" ry="2.6"/><rect x="1505.49" y="807.30" width="9.1" height="41.2" rx="2.6" ry="2.6"/><rect x="1505.66" y="882.50" width="9.1" height="41.2" rx="2.6" ry="2.6"/><rect x="1505.83" y="957.70" width="9.1" height="41.2" rx="2.6" ry="2.6"/><rect x="1506.00" y="1032.90" width="9.1" height="41.2" rx="2.6" ry="2.6"/><rect x="1506.17" y="1108.10" width="9.1" height="41.2" rx="2.6" ry="2.6"/><rect x="1506.34" y="1183.30" width="9.1" height="41.2" rx="2.6" ry="2.6"/><rect x="1506.51" y="1258.50" width="9.1" height="41.2" rx="2.6" ry="2.6"/></g>
<g fill="#000"><rect x="1869.60" y="58.90" width="9.1" height="41.2" rx="2.6" ry="2.6"/><rect x="1869.82" y="134.09" width="9.1" height="41.2" rx="2.6" ry="2.6"/><rect x="1870.03" y="209.28" width="9.1" height="41.2" rx="2.6" ry="2.6"/><rect x="1870.24" y="284.47" width="9.1" height="41.2" rx="2.6" ry="2.6"/><rect x="1870.45" y="359.66" width="9.1" height="41.2" rx="2.6" ry="2.6"/><rect x="1870.66" y="434.85" width="9.1" height="41.2" rx="2.6" ry="2.6"/><rect x="1870.87" y="510.04" width="9.1" height="41.2" rx="2.6" ry="2.6"/><rect x="1871.08" y="585.23" width="9.1" height="41.2" rx="2.6" ry="2.6"/><rect x="1871.29" y="660.42" width="9.1" height="41.2" rx="2.6" ry="2.6"/><rect x="1871.50" y="735.61" width="9.1" height="41.2" rx="2.6" ry="2.6"/><rect x="1871.71" y="810.80" width="9.1" height="41.2" rx="2.6" ry="2.6"/><rect x="1871.92" y="885.99" width="9.1" height="41.2" rx="2.6" ry="2.6"/><rect x="1872.13" y="961.18" width="9.1" height="41.2" rx="2.6" ry="2.6"/><rect x="1872.34" y="1036.37" width="9.1" height="41.2" rx="2.6" ry="2.6"/><rect x="1872.55" y="1111.56" width="9.1" height="41.2" rx="2.6" ry="2.6"/><rect x="1872.76" y="1186.75" width="9.1" height="41.2" rx="2.6" ry="2.6"/><rect x="1872.97" y="1261.94" width="9.1" height="41.2" rx="2.6" ry="2.6"/></g>
<text class="tick" font-size="72.7" text-anchor="middle" transform="translate(283.00 1378.60) scale(0.9750 1.0200)">20</text>
<text class="tick" font-size="72.7" text-anchor="middle" transform="translate(527.50 1378.60) scale(0.9750 1.0200)">40</text>
<text class="tick" font-size="72.7" text-anchor="middle" transform="translate(772.00 1378.60) scale(0.9750 1.0200)">60</text>
<text class="tick" font-size="72.7" text-anchor="middle" transform="translate(1016.50 1378.60) scale(0.9750 1.0200)">80</text>
<text class="tick" font-size="72.7" text-anchor="middle" transform="translate(1261.00 1378.60) scale(0.9750 1.0200)">100</text>
<text class="tick" font-size="72.7" text-anchor="middle" transform="translate(1505.50 1378.60) scale(0.9750 1.0200)">120</text>
<text class="tick" font-size="72.7" text-anchor="middle" transform="translate(1750.00 1378.60) scale(0.9750 1.0200)">140</text>
<text class="tick" font-size="72.7" text-anchor="middle" transform="translate(1994.50 1378.60) scale(0.9750 1.0200)">160</text>
<text class="tick" font-size="72.7" text-anchor="end" transform="translate(255.20 86.90) scale(0.9750 1.0200)">102</text>
<text class="tick" font-size="72.7" text-anchor="end" transform="translate(255.20 293.97) scale(0.9750 1.0200)">100</text>
<text class="tick" font-size="72.7" text-anchor="end" transform="translate(255.20 501.04) scale(0.9750 1.0200)">98</text>
<text class="tick" font-size="72.7" text-anchor="end" transform="translate(255.20 708.11) scale(0.9750 1.0200)">96</text>
<text class="tick" font-size="72.7" text-anchor="end" transform="translate(255.20 915.18) scale(0.9750 1.0200)">94</text>
<text class="tick" font-size="72.7" text-anchor="end" transform="translate(255.20 1122.25) scale(0.9750 1.0200)">92</text>
<text class="tick" font-size="72.7" text-anchor="end" transform="translate(255.20 1329.32) scale(0.9750 1.0200)">90</text>
<text class="axl" font-size="83.5" text-anchor="start" transform="translate(90.80 926.40) rotate(-90) scale(1.0000 1.0200)">Weight (%)</text>
<text class="axl" font-size="84" y="1495.8"><tspan x="1062.3">T</tspan> <tspan x="1136">(</tspan><tspan x="1163.6" y="1450.5" font-size="52">o</tspan><tspan x="1188" y="1495.8" font-size="88">C</tspan><tspan x="1247.5" font-size="84">)</tspan></text>
<text class="lab" font-size="52.5" text-anchor="start" transform="translate(1518.20 257.00) scale(1.0000 1.0600)">(e)</text>
<text class="lab" font-size="52.5" text-anchor="start" transform="translate(1516.20 422.30) scale(1.0000 1.0600)">(d)</text>
<text class="lab" font-size="52.5" text-anchor="start" transform="translate(1521.80 512.20) scale(1.0000 1.0600)">(c)</text>
<text class="lab" font-size="52.5" text-anchor="start" transform="translate(1519.00 598.00) scale(1.0000 1.0600)">(b)</text>
<text class="lab" font-size="52.5" text-anchor="start" transform="translate(1515.20 720.20) scale(1.0000 1.0600)">(a)</text>
<text class="pct" font-size="58.9" text-anchor="start" transform="translate(1698.80 294.90) scale(1.0000 1.0500)">0.62%</text>
<text class="pct" font-size="58.9" text-anchor="start" transform="translate(1708.80 892.70) scale(1.0000 1.0500)">5.84%</text>
</svg>
</body>
</html>
